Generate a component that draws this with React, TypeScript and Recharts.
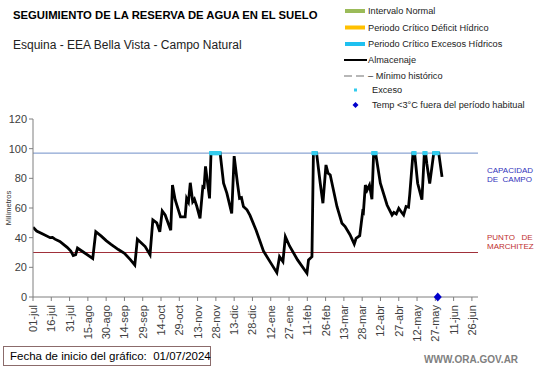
import { ComposedChart, Line, Scatter, XAxis, YAxis, ReferenceLine } from 'recharts'

// días desde 01/07/2024 y almacenaje (mm) en cada quiebre de la curva
const diasAlmacenaje = [
  0, 3, 8, 14, 16, 18, 22, 28, 31, 33, 35, 36.5, 40, 49, 51.5, 56, 60, 64, 70, 75, 80, 83.5,
  85.6, 92, 96, 98.3, 101.5, 104, 106, 108.4, 113, 114.4, 116.6, 121, 124.8, 126, 127.5, 129,
  131, 132.4, 134.4, 137, 139.3, 140.3, 141.5, 144.8, 146, 153.5, 156.3, 159, 163, 165, 167.7,
  169.4, 171, 172.6, 175.5, 178, 183, 189, 195, 200, 202.2, 205, 207, 210.4, 217, 224.7, 226,
  228.8, 230, 232.6, 235.6, 237.8, 240.3, 242, 243.8, 249.3, 253.4, 256, 260, 263.5, 265, 268,
  270.4, 271, 272.6, 274, 276, 278, 279.4, 281, 284.9, 290.4, 294.5, 296, 298, 300, 302, 304,
  306, 308, 309, 311.7, 313, 315.5, 319, 321, 322, 323, 325.4, 328.7, 332.8, 335.5,
]
const almacenajeMm = [
  47, 44.5, 42.5, 40, 40.2, 39, 37.5, 33.5, 31, 28, 28.5, 33, 31, 26, 44, 41, 38, 35.5, 32, 29.5, 25, 21.5,
  39, 34, 28.5, 52, 50, 44, 58, 55.3, 45, 75.5, 65.6, 54, 54, 66.5, 64, 77,
  64.3, 66, 61, 53, 74.4, 74, 88, 66.5, 97, 97, 76.7, 70, 56.4, 95, 76.7,
  66.5, 67, 61, 58.8, 55, 45, 31, 23, 16.4, 27.2, 23.9, 40.7, 34.4, 25, 16, 25,
  27.2, 97, 97, 76.7, 63.2, 89, 83.5, 82.3, 61, 49.7, 47.5, 42, 35.7, 39.6, 41.3,
  57.5, 57, 75.5, 72, 75.5, 65.9, 97, 97, 76.7, 62, 55.3, 57, 56, 59.8, 57.5, 55.3,
  61, 60.5, 69, 97, 97, 76.7, 65.6, 97, 97, 90, 76.4, 97, 97, 81,
]
const diasExceso = [146, 147, 148, 149, 150, 151, 152, 153, 230, 231, 232, 279, 280, 281, 312, 313, 321, 322, 329, 330, 331, 332]
const diasTempBaja = [332]
const capacidadCampo = 97
const puntoMarchitez = 30

const xTickLabels = [
  '01-jul', '16-jul', '31-jul', '15-ago', '30-ago', '14-sep', '29-sep', '14-oct', '29-oct',
  '13-nov', '28-nov', '13-dic', '28-dic', '12-ene', '27-ene', '11-feb', '26-feb', '13-mar',
  '28-mar', '12-abr', '27-abr', '12-may', '27-may', '11-jun', '26-jun',
]
const yTicks = [0, 20, 40, 60, 80, 100, 120]

const data = diasAlmacenaje.map((dia, i) => ({ dia, mm: almacenajeMm[i] }))
const exceso = diasExceso.map((dia) => ({ dia, mm: capacidadCampo }))
const tempBaja = diasTempBaja.map((dia) => ({ dia, mm: 0 }))
const xTicks = xTickLabels.map((_, i) => i * 15)

const font = '"Liberation Sans", Arial, sans-serif'

function ExcesoDot(props: any) {
  const { cx, cy } = props
  return <rect x={cx - 2} y={cy - 2} width={4} height={4} fill="#33CCEE" />
}

function Diamante(props: any) {
  const { cx, cy } = props
  return <polygon points={`${cx},${cy - 4.5} ${cx + 4},${cy} ${cx},${cy + 4.5} ${cx - 4},${cy}`} fill="#0000CC" />
}

function XTick(props: any) {
  const { x, y, payload } = props
  const i = xTicks.indexOf(payload.value)
  return (
    <text x={x} y={y + 2} transform={`rotate(-90 ${x} ${y + 2})`} textAnchor="end" dominantBaseline="central" fontSize={11} fill="#404040" fontFamily={font}>
      {xTickLabels[i]}
    </text>
  )
}

const legendItems = [
  { label: 'Intervalo Normal', kind: 'bar', color: '#9BBB59' },
  { label: 'Periodo Crítico Déficit Hídrico', kind: 'bar', color: '#FFC000' },
  { label: 'Periodo Crítico Excesos Hídricos', kind: 'bar', color: '#1EC0F0' },
  { label: 'Almacenaje', kind: 'line', color: '#000' },
  { label: 'Mínimo histórico', kind: 'dash', color: '#A0A0A0' },
  { label: 'Exceso', kind: 'dot', color: '#33CCEE' },
  { label: 'Temp <3°C fuera del período habitual', kind: 'diamond', color: '#0000CC' },
]
const legendY = [11, 27.5, 44, 60, 76, 90, 105]

function Leyenda() {
  return (
    <svg width={205} height={115} style={{ position: 'absolute', left: 340, top: 0 }}>
      {legendItems.map((it, i) => {
        const y = legendY[i]
        let sw = null
        if (it.kind === 'bar') sw = <rect x={5} y={y - 2} width={20} height={4} fill={it.color} />
        if (it.kind === 'line') sw = <line x1={4} x2={27} y1={y} y2={y} stroke={it.color} strokeWidth={2} />
        if (it.kind === 'dash') sw = <line x1={4} x2={27} y1={y} y2={y} stroke={it.color} strokeWidth={1.5} strokeDasharray="8 4" />
        if (it.kind === 'dot') sw = <rect x={14} y={y - 1.5} width={3} height={3} fill={it.color} />
        if (it.kind === 'diamond') sw = <polygon points={`15.5,${y - 3} 18.5,${y} 15.5,${y + 3} 12.5,${y}`} fill={it.color} />
        return (
          <g key={it.label}>
            {sw}
            <text x={it.kind === 'dot' || it.kind === 'diamond' ? 32 : 28} y={y} dominantBaseline="central" fontSize={9.2} fill="#222" fontFamily={font}>
              {it.kind === 'dash' ? '– ' + it.label : it.label}
            </text>
          </g>
        )
      })}
    </svg>
  )
}

export default function App() {
  return (
    <div style={{ position: 'absolute', left: 0, top: 0, width: 541, height: 368, background: '#fff', fontFamily: font, overflow: 'hidden' }}>
      <div style={{ position: 'absolute', left: 13, top: 9, fontSize: 11.3, fontWeight: 'bold', color: '#000', whiteSpace: 'nowrap' }}>
        SEGUIMIENTO DE LA RESERVA DE AGUA EN EL SUELO
      </div>
      <div style={{ position: 'absolute', left: 13, top: 38, fontSize: 12, color: '#222', whiteSpace: 'nowrap' }}>
        Esquina - EEA Bella Vista - Campo Natural
      </div>
      <Leyenda />
      <div style={{ position: 'absolute', left: 0, top: 0 }}>
        <ComposedChart width={541} height={368} data={data} margin={{ top: 119, right: 63, bottom: 21, left: 0 }}>
          <XAxis
            dataKey="dia"
            type="number"
            domain={[0, 365]}
            ticks={xTicks}
            interval={0}
            tick={<XTick />}
            tickSize={4}
            height={50}
            stroke="#7F7F7F"
            allowDataOverflow
          />
          <YAxis
            type="number"
            domain={[0, 120]}
            ticks={yTicks}
            width={33}
            tickSize={4}
            stroke="#7F7F7F"
            tick={{ fontSize: 11, fill: '#404040', fontFamily: font }}
          />
          <ReferenceLine y={capacidadCampo} stroke="#6F8FC8" strokeWidth={1} />
          <ReferenceLine y={puntoMarchitez} stroke="#A0303A" strokeWidth={1} />
          <Line dataKey="mm" type="linear" stroke="#000" strokeWidth={2.8} dot={false} isAnimationActive={false} />
          <Scatter data={exceso} dataKey="mm" shape={<ExcesoDot />} isAnimationActive={false} />
          <Scatter data={tempBaja} dataKey="mm" shape={<Diamante />} isAnimationActive={false} />
        </ComposedChart>
      </div>
      <svg width={20} height={80} style={{ position: 'absolute', left: -2, top: 168 }}>
        <text x={10} y={40} transform="rotate(-90 10 40)" textAnchor="middle" dominantBaseline="central" fontSize={7.5} fill="#333" fontFamily={font}>
          Milímetros
        </text>
      </svg>
      <div style={{ position: 'absolute', left: 487, top: 166, fontSize: 8, lineHeight: '9px', color: '#3333BB' }}>
        CAPACIDAD<br />DE&nbsp;&nbsp;CAMPO
      </div>
      <div style={{ position: 'absolute', left: 487, top: 233, fontSize: 8, lineHeight: '9px', color: '#C03030' }}>
        PUNTO&nbsp;&nbsp;&nbsp;DE<br />MARCHITEZ
      </div>
      <div style={{ position: 'absolute', left: 3, top: 346, width: 208, height: 20, border: '1px solid #8B6B6B', boxSizing: 'border-box', fontSize: 11.5, lineHeight: '18px', paddingLeft: 6, color: '#000', whiteSpace: 'nowrap' }}>
        Fecha de inicio del gráfico:&nbsp;&nbsp;01/07/2024
      </div>
      <div style={{ position: 'absolute', left: 424, top: 354, fontSize: 10, fontWeight: 'bold', color: '#808080', whiteSpace: 'nowrap' }}>
        WWW.ORA.GOV.AR
      </div>
    </div>
  )
}
